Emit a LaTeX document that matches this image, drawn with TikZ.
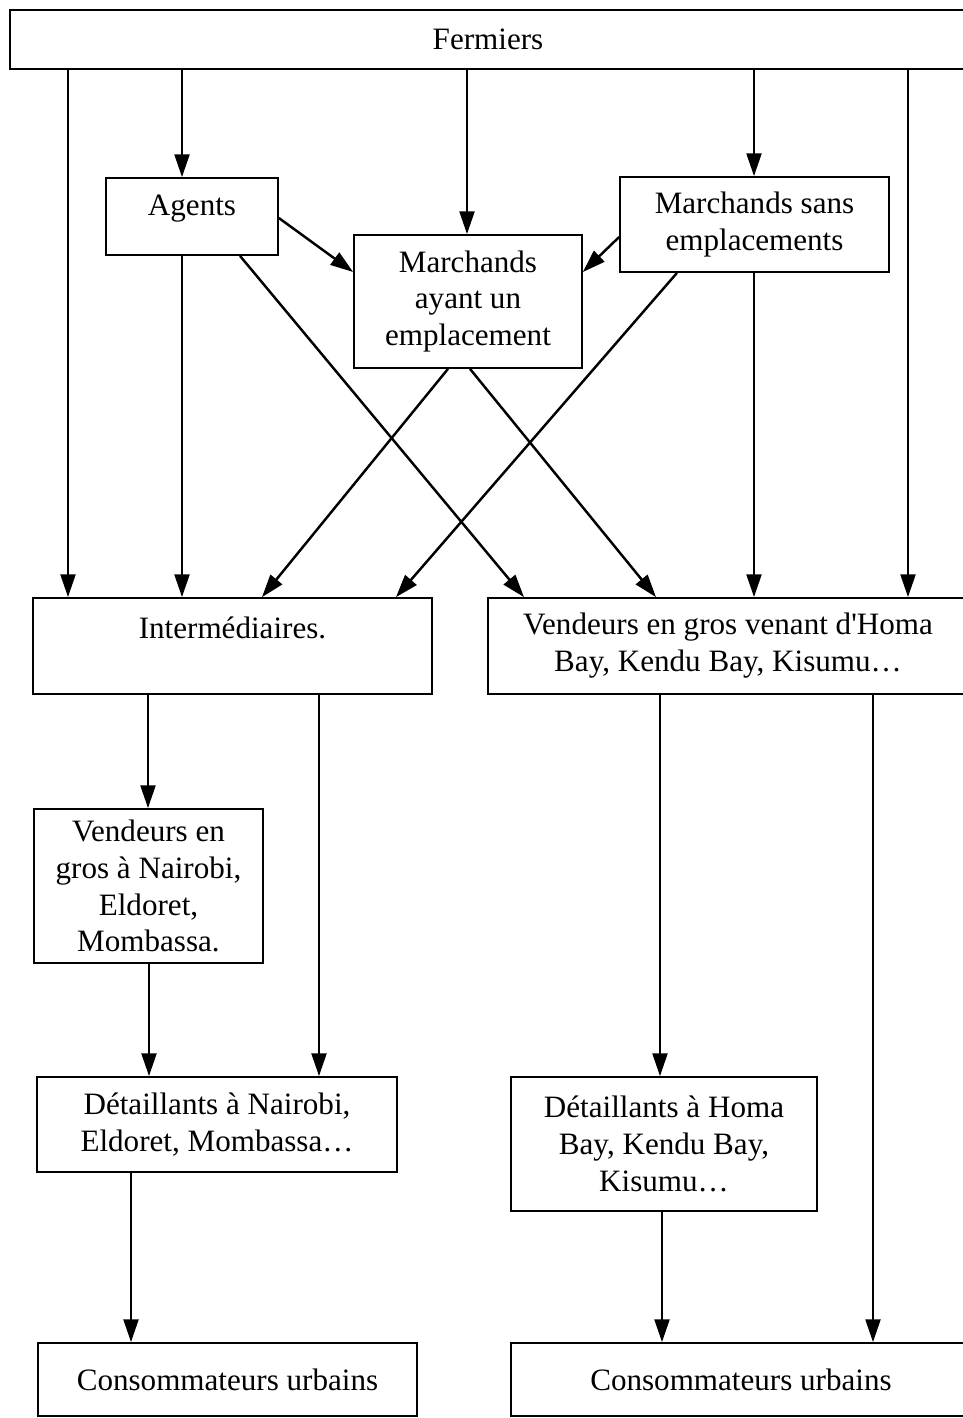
\documentclass[tikz,border=0pt]{standalone}
\usepackage{fontspec}
\setmainfont{Liberation Serif}
\usetikzlibrary{arrows.meta}

\begin{document}
\begin{tikzpicture}[x=0.02cm, y=-0.02cm,
	box/.style={draw, line width=1pt, inner sep=0pt, align=center,
		font=\fontsize{17.7}{21}\selectfont},
	arr/.style={line width=1.4pt, -{Triangle[width=8.5pt, length=13pt]}}]
			%%%%% START %%%%%
			
			\useasboundingbox (0, 0) rectangle (963, 1418);
			\clip (0, 0) rectangle (963, 1418);
			
			\node[box, minimum width=19.12cm, minimum height=1.18cm] (fermiers) at (488, 39.5) {Fermiers};
			
			\node[box, minimum width=3.44cm, minimum height=1.54cm] (agents) at (192, 216.5) {Agents\\[-8pt]};
			\node[box, minimum width=4.56cm, minimum height=2.66cm] (ayant) at (468, 301.5) {Marchands\\ayant un\\emplacement};
			\node[box, minimum width=5.38cm, minimum height=1.90cm] (sans) at (754.5, 224.5) {Marchands sans\\emplacements};
			
			\node[box, minimum width=7.98cm, minimum height=1.92cm] (inter) at (232.5, 646) {Intermédiaires.\\ \mbox{}};
			\node[box, minimum width=9.60cm, minimum height=1.92cm] (vgros) at (728, 646) {Vendeurs en gros venant d\textquotesingle Homa\\Bay, Kendu Bay, Kisumu\ldots};
			
			\node[box, minimum width=4.58cm, minimum height=3.08cm] (vnai) at (148.5, 886) {Vendeurs en\\gros à Nairobi,\\Eldoret,\\Mombassa.};
			\node[box, minimum width=7.20cm, minimum height=1.90cm] (dnai) at (217, 1124.5) {Détaillants à Nairobi,\\Eldoret, Mombassa\ldots};
			\node[box, minimum width=6.12cm, minimum height=2.68cm] (dhoma) at (664, 1144) {Détaillants à Homa\\Bay, Kendu Bay,\\Kisumu\ldots};
			
			\node[box, minimum width=7.58cm, minimum height=1.46cm] (cons1) at (227.5, 1379.5) {Consommateurs urbains};
			\node[box, minimum width=9.20cm, minimum height=1.46cm] (cons2) at (741, 1379.5) {Consommateurs urbains};
			
			% from the farmers
			\draw[arr] (68,0 |- fermiers.south) -- (68,0 |- inter.north);
			\draw[arr] (182,0 |- fermiers.south) -- (182,0 |- agents.north);
			\draw[arr] (467,0 |- fermiers.south) -- (467,0 |- ayant.north);
			\draw[arr] (754,0 |- fermiers.south) -- (754,0 |- sans.north);
			\draw[arr] (908,0 |- fermiers.south) -- (908,0 |- vgros.north);
			
			% middle traders
			\draw[arr] (agents.east |- 0,218) -- (ayant.west |- 0,272);
			\draw[arr] (sans.west |- 0,237) -- (ayant.east |- 0,272);
			\draw[arr] (182,0 |- agents.south) -- (182,0 |- inter.north);
			\draw[arr] (240,0 |- agents.south) -- (524,0 |- vgros.north);
			\draw[arr] (448,0 |- ayant.south) -- (262,0 |- inter.north);
			\draw[arr] (470,0 |- ayant.south) -- (656,0 |- vgros.north);
			\draw[arr] (677,0 |- sans.south) -- (396,0 |- inter.north);
			\draw[arr] (754,0 |- sans.south) -- (754,0 |- vgros.north);
			
			% left branch
			\draw[arr] (148,0 |- inter.south) -- (148,0 |- vnai.north);
			\draw[arr] (319,0 |- inter.south) -- (319,0 |- dnai.north);
			\draw[arr] (149,0 |- vnai.south) -- (149,0 |- dnai.north);
			\draw[arr] (131,0 |- dnai.south) -- (131,0 |- cons1.north);
			
			% right branch
			\draw[arr] (660,0 |- vgros.south) -- (660,0 |- dhoma.north);
			\draw[arr] (873,0 |- vgros.south) -- (873,0 |- cons2.north);
			\draw[arr] (662,0 |- dhoma.south) -- (662,0 |- cons2.north);
			
			%%%%% END %%%%%
\end{tikzpicture}
\end{document}
